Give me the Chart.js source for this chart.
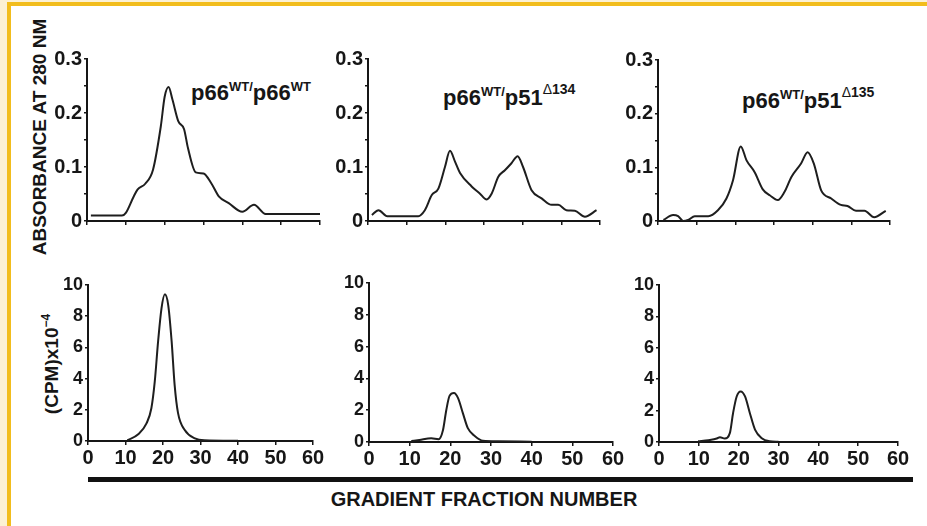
<!DOCTYPE html>
<html>
<head>
<meta charset="utf-8">
<script src="https://cdn.jsdelivr.net/npm/chart.js@4.4.1/dist/chart.umd.min.js"></script>
<style>
  html, body { margin: 0; padding: 0; background: #fff; }
  #page { position: relative; width: 927px; height: 526px; overflow: hidden; background: #fff;
          font-family: "Liberation Sans", Arial, sans-serif; font-weight: bold; color: #161616; }
  #page canvas { position: absolute; }
  .txt { position: absolute; white-space: nowrap; line-height: 1; }
  .title { font-size: 22px; }
  .sup { position: relative; font-size: 13px; top: -9px; }
  .sup2 { position: relative; font-size: 14px; top: -11px; }
  .thin { font-weight: normal; }
  .ytitle { transform: translate(-50%, -50%) rotate(-90deg); }
</style>
</head>
<body>
<div id="page">
  <div style="position:absolute;left:0;top:0;width:7px;height:526px;background:#fcf1d4"></div>
  <div style="position:absolute;left:0;top:0;width:927px;height:2px;background:#fcf1d4"></div>
  <div style="position:absolute;left:7px;top:2px;width:4px;height:524px;background:#f2bd1d"></div>
  <div style="position:absolute;left:7px;top:2px;width:920px;height:4px;background:#f2bd1d"></div>

  <div class="txt ytitle" style="left:39px;top:137px;font-size:19px">ABSORBANCE AT 280 NM</div>
  <div class="txt ytitle" style="left:51px;top:364px;font-size:19px">(CPM)x10<span class="sup" style="font-size:12px;top:-8px">&minus;4</span></div>

  <div class="txt title" style="left:191px;top:82px">p66<span class="sup">WT/</span>p66<span class="sup">WT</span></div>
  <div class="txt title" style="left:443px;top:87px">p66<span class="sup">WT/</span>p51<span class="sup2"><span class="thin">&Delta;</span>134</span></div>
  <div class="txt title" style="left:742px;top:90px">p66<span class="sup">WT/</span>p51<span class="sup2"><span class="thin">&Delta;</span>135</span></div>

  <div style="position:absolute;left:88px;top:477px;width:825px;height:5px;background:#111"></div>
  <div class="txt" style="left:484px;top:499px;font-size:20px;transform:translate(-50%,-50%)">GRADIENT FRACTION NUMBER</div>
</div>

<script>
// ── data: absorbance at 280 nm (top row) ─────────────────────────────────────
var fracAbs1 = [1, 9, 10, 12, 13, 15, 17, 19, 20, 21, 22, 23.5, 25, 26, 28, 30, 32, 34, 36.5, 40, 43, 46, 60];
var abs1     = [0.010, 0.010, 0.015, 0.045, 0.058, 0.069, 0.095, 0.175, 0.23, 0.248, 0.225, 0.185, 0.17, 0.135, 0.09, 0.088, 0.07, 0.045, 0.033, 0.017, 0.03, 0.013, 0.013];

var fracAbs2 = [1, 2.7, 5, 13, 14.7, 16.5, 18.2, 19.9, 21.2, 22.5, 23.8, 26.8, 28.9, 30.7, 32, 33.7, 35.4, 37.1, 38.7, 40.1, 42.3, 44.9, 47.5, 49.2, 51.3, 53.5, 56.1, 59.1];
var abs2     = [0.011, 0.020, 0.009, 0.009, 0.020, 0.048, 0.060, 0.100, 0.130, 0.110, 0.089, 0.064, 0.051, 0.040, 0.051, 0.082, 0.094, 0.107, 0.120, 0.100, 0.057, 0.042, 0.030, 0.030, 0.020, 0.019, 0.008, 0.020];

var fracAbs3 = [1.4, 3.9, 5.2, 6.5, 7.8, 9.5, 13, 15.5, 17.7, 19.4, 21.4, 22.9, 25, 27.1, 28.9, 31, 32.7, 34.5, 37, 38.7, 40.3, 42.2, 44.8, 47.3, 49, 51.2, 53.4, 55.9, 58.9];
var abs3     = [0.002, 0.011, 0.009, 0.000, 0.002, 0.009, 0.009, 0.020, 0.042, 0.076, 0.139, 0.113, 0.091, 0.059, 0.048, 0.039, 0.054, 0.082, 0.107, 0.128, 0.107, 0.057, 0.042, 0.030, 0.028, 0.019, 0.019, 0.007, 0.019];

// ── data: radioactivity, CPM x 10^-4 (bottom row) ────────────────────────────
var fracCpm1 = [10.5, 13.4, 15.6, 16.9, 17.8, 18.7, 19.6, 20.5, 21.4, 22.3, 23.1, 24, 25.8, 28.5, 31, 40];
var cpm1     = [0.05, 0.43, 1.13, 2.1, 3.8, 6.4, 8.5, 9.4, 8.7, 6.4, 3.6, 1.8, 0.7, 0.17, 0.05, 0.02];

var fracCpm2 = [10.4, 12.4, 15.3, 17.1, 18.2, 19, 19.8, 20.9, 21.9, 23.1, 24.3, 26, 28, 31.7, 40];
var cpm2     = [0.06, 0.13, 0.23, 0.17, 0.76, 2.0, 2.9, 3.08, 2.76, 1.8, 0.87, 0.38, 0.08, 0.05, 0.02];

var fracCpm3 = [9.8, 12.4, 14.5, 15.3, 16.5, 17.8, 18.6, 19.5, 20.5, 21.6, 22.8, 24.1, 25.7, 27.8, 30];
var cpm3     = [0.05, 0.12, 0.22, 0.31, 0.22, 0.58, 1.85, 2.9, 3.22, 2.9, 1.85, 0.79, 0.26, 0.05, 0.02];

// axis ranges
var fracMax = 60, fracStep = 10;
var absMax = 0.3, absStep = 0.05;
var cpmMax = 10, cpmStep = 2;

// ── layout of each panel (plot-area edges in page pixels) ────────────────────
var panels = [
  { xs: fracAbs1, ys: abs1, kind: "abs", left: 87,  right: 320, top: 59,  bottom: 221 },
  { xs: fracAbs2, ys: abs2, kind: "abs", left: 368, right: 600, top: 59,  bottom: 221 },
  { xs: fracAbs3, ys: abs3, kind: "abs", left: 658, right: 890, top: 60,  bottom: 221 },
  { xs: fracCpm1, ys: cpm1, kind: "cpm", left: 88,  right: 313, top: 285, bottom: 441 },
  { xs: fracCpm2, ys: cpm2, kind: "cpm", left: 369, right: 613, top: 283, bottom: 442 },
  { xs: fracCpm3, ys: cpm3, kind: "cpm", left: 659, right: 898, top: 285, bottom: 442 }
];

var FONT = '"Liberation Sans", Arial, sans-serif';
var INK = "#161616";

function absLabel(v) {
  var k = Math.round(v * 100);
  if (k % 10 !== 0) return "";
  return k === 0 ? "0" : (k / 100).toFixed(1);
}

function makePanel(p) {
  var yW = 52, padTop = 14, padRight = 16, xH = 34;
  var w = p.right - p.left + yW + padRight;
  var h = p.bottom - p.top + padTop + xH;
  var cv = document.createElement("canvas");
  cv.width = w; cv.height = h;
  cv.style.width = w + "px"; cv.style.height = h + "px";
  cv.style.left = (p.left - yW) + "px";
  cv.style.top = (p.top - padTop) + "px";
  document.getElementById("page").appendChild(cv);

  var isAbs = p.kind === "abs";
  var pts = p.xs.map(function(x, i) { return { x: x, y: p.ys[i] }; });

  new Chart(cv.getContext("2d"), {
    type: "line",
    data: {
      datasets: [{
        data: pts,
        borderColor: "#1e1e1e",
        borderWidth: 2,
        pointRadius: 0,
        fill: false,
        cubicInterpolationMode: "monotone"
      }]
    },
    options: {
      responsive: false,
      animation: false,
      devicePixelRatio: 1,
      layout: { padding: { left: 0, right: padRight, top: padTop, bottom: 0 }, autoPadding: false },
      plugins: { legend: { display: false }, tooltip: { enabled: false } },
      scales: {
        x: {
          type: "linear", min: 0, max: fracMax,
          ticks: {
            stepSize: fracStep, display: !isAbs, autoSkip: false, maxRotation: 0,
            padding: 1, color: INK, font: { family: FONT, size: 20, weight: "bold" }
          },
          grid: { drawOnChartArea: false, drawTicks: true, tickLength: 4, color: INK, lineWidth: 1.5 },
          border: { display: true, color: INK, width: 2 },
          afterFit: function(s) { s.height = xH; }
        },
        y: {
          type: "linear", min: 0, max: isAbs ? absMax : cpmMax,
          ticks: {
            stepSize: isAbs ? absStep : cpmStep, autoSkip: false, padding: 2, color: INK,
            font: { family: FONT, size: isAbs ? 20 : 18, weight: "bold" },
            callback: isAbs ? absLabel : function(v) { return String(v); }
          },
          grid: { drawOnChartArea: false, drawTicks: true, tickLength: 3, color: INK, lineWidth: 1.5 },
          border: { display: true, color: INK, width: 2 },
          afterFit: function(s) { s.width = yW; }
        }
      }
    }
  });
}

panels.forEach(makePanel);
</script>
</body>
</html>
